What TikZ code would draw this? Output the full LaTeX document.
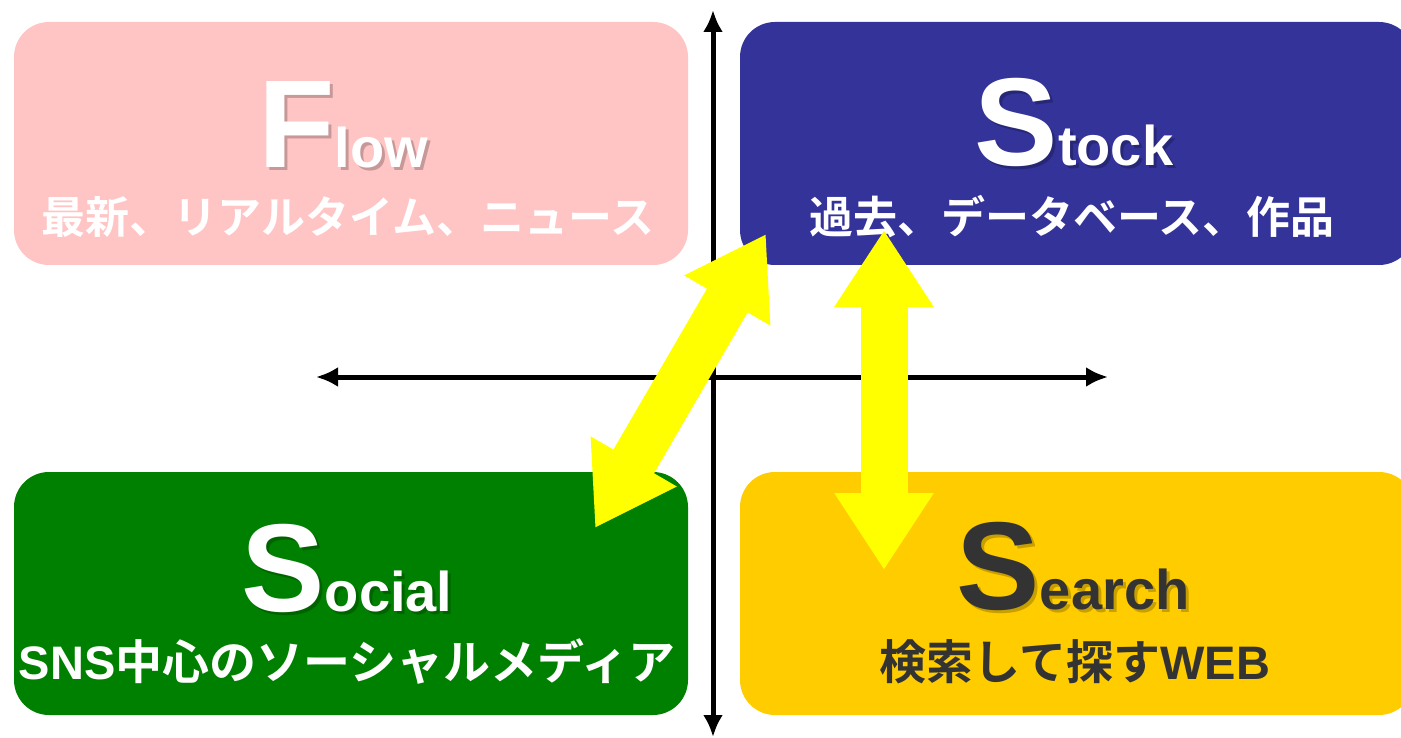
\documentclass[tikz,border=0pt]{standalone}
\usepackage{fontspec}
\setmainfont{Liberation Sans}
\newfontfamily\jp{Noto Sans CJK JP}[BoldFont={Noto Sans CJK JP Bold}]
\usetikzlibrary{arrows.meta}
\definecolor{flowc}{HTML}{FFC4C4}
\definecolor{stockc}{HTML}{333399}
\definecolor{socialc}{HTML}{008000}
\definecolor{searchc}{HTML}{FFCC00}
\definecolor{darkc}{HTML}{333333}
\definecolor{arrowc}{HTML}{FFFF00}
\newcommand\ttl[2]{{\fontsize{125}{125}\selectfont #1}{\fontsize{56}{56}\selectfont #2}}
\newcommand\lat[1]{{\rmfamily\bfseries #1}}

\begin{document}
\begin{tikzpicture}[x=1pt,y=-1pt,
  qbox/.style={rounded corners=35pt,minimum width=674pt,minimum height=243pt,inner sep=0pt},
  ttlnode/.style={anchor=base,inner sep=0pt,font=\bfseries},
  shd/.style={ttlnode,text=black,opacity=0.22},
  sub/.style={inner sep=0pt,font=\jp\bfseries\fontsize{44}{44}\selectfont},
  subl/.style={inner sep=0pt,font=\jp\bfseries\fontsize{47}{47}\selectfont},
  axis/.style={line width=5pt,{Latex[length=22pt,width=20pt]}-{Latex[length=22pt,width=20pt]}},
  fat/.style={arrowc,line width=47pt,{Triangle[length=77pt,width=94pt]}-{Triangle[length=77pt,width=94pt]}}]
  \useasboundingbox[fill=white] (0,0) rectangle (1401,738);
  \clip (0,0) rectangle (1401,738);
  % the four quadrants
  \node[qbox,fill=flowc] (flow) at (351,143.5) {};
  \node[qbox,fill=stockc] (stock) at (1077,143.5) {};
  \node[qbox,fill=socialc] (social) at (351,593.5) {};
  \node[qbox,fill=searchc] (search) at (1077,593.5) {};
  % titles, shadow first
  \node[shd] (flowsh) at (346,171) {\ttl{F}{low}};
  \node[ttlnode,text=white] (flowt) at (343,168) {\ttl{F}{low}};
  \node[shd] (stocksh) at (1077,169) {\ttl{S}{tock}};
  \node[ttlnode,text=white] (stockt) at (1074,166) {\ttl{S}{tock}};
  \node[shd] (socialsh) at (350,614) {\ttl{S}{ocial}};
  \node[ttlnode,text=white] (socialt) at (347,611) {\ttl{S}{ocial}};
  \node[shd] (searchsh) at (1076,612) {\ttl{S}{earch}};
  \node[ttlnode,text=darkc] (searcht) at (1073,609) {\ttl{S}{earch}};
  \node[sub,text=white] (flows) at (348,217) {最新、リアルタイム、ニュース};
  \node[sub,text=white] (stocks) at (1072,217) {過去、データベース、作品};
  \node[subl,text=white] (socials) at (347,662) {\lat{SNS}中心のソーシャルメディア};
  \node[subl,text=darkc] (searchs) at (1075,662) {検索して探す\lat{WEB}};
  % axes
  \draw[axis] (713,10) -- (713,737);
  \draw[axis] (316,377) -- (1108,377);
  % yellow arrows
  \coordinate (a1) at (595,528);
  \coordinate (a2) at (766,234);
  \coordinate (b1) at (884,230);
  \coordinate (b2) at (884,570);
  \draw[fat] (a1) -- (a2);
  \draw[fat] (b1) -- (b2);
\end{tikzpicture}
\end{document}
